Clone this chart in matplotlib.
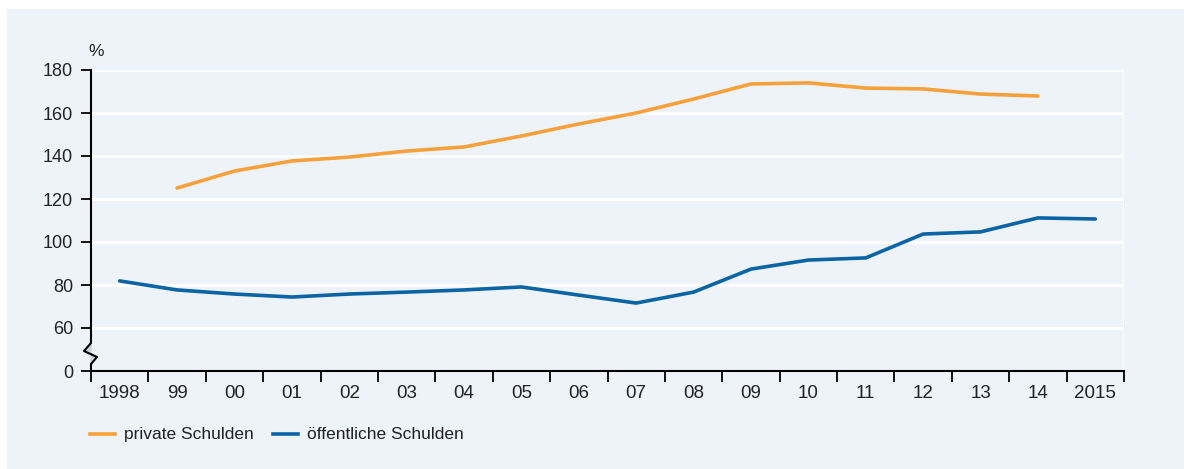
import matplotlib
matplotlib.use("Agg")
import matplotlib.pyplot as plt
from matplotlib.patches import Rectangle
from matplotlib.lines import Line2D
import numpy as np

plt.rcParams['font.family'] = ['Liberation Sans', 'DejaVu Sans']

# ---- data ----
years = ["1998", "99", "00", "01", "02", "03", "04", "05", "06", "07",
         "08", "09", "10", "11", "12", "13", "14", "2015"]
private_debt = [None, 125.1, 133.0, 137.7, 139.5, 142.3, 144.2, 149.3, 154.9,
                160.0, 166.5, 173.5, 174.0, 171.6, 171.2, 168.8, 167.9, None]
public_debt = [81.9, 77.7, 75.8, 74.4, 75.8, 76.7, 77.7, 79.1, 75.3, 71.6,
               76.7, 87.4, 91.6, 92.6, 103.7, 104.7, 111.2, 110.7]
ytick_labels = [0, 60, 80, 100, 120, 140, 160, 180]
series_names = ["private Schulden", "öffentliche Schulden"]

BREAK = 40  # values >= 60 are shifted down by 40 (axis break between 0 and 60)

def tr(v):
    return np.nan if v is None else v - BREAK

W, H = 1184, 469
fig = plt.figure(figsize=(W / 100, H / 100), dpi=100)
fig.patch.set_facecolor("white")
bg = "#EEF3FA"
fig.patches.append(Rectangle((7 / W, 0), 1 - 7 / W, 1 - 9 / H, transform=fig.transFigure,
                             facecolor=bg, edgecolor="none", zorder=-5))

left, right, top, bottom = 91, 1124, 70, 371
ax = fig.add_axes([left / W, (H - bottom) / H, (right - left) / W, (bottom - top) / H])
ax.set_facecolor(bg)

x = np.arange(len(years))
orange = "#F7A03C"
blue = "#0B64A3"
ax.plot(x, [tr(v) for v in private_debt], color=orange, lw=2.6,
        solid_capstyle="round", solid_joinstyle="round", zorder=3)
ax.plot(x, [tr(v) for v in public_debt], color=blue, lw=2.6,
        solid_capstyle="round", solid_joinstyle="round", zorder=3)

ax.set_xlim(-0.5, len(years) - 0.5)
ax.set_ylim(0, 140)

ypos = [0] + [v - BREAK for v in ytick_labels[1:]]
ax.set_yticks(ypos)
ax.set_yticklabels([str(v) for v in ytick_labels], fontsize=13, color="#222222")
for yv in ypos[1:]:
    ax.axhline(yv, color="white", lw=2, zorder=1)
ax.axvline(len(years) - 0.5, color="white", lw=2, zorder=1)

ax.set_xticks(np.arange(-0.5, len(years), 1.0))
ax.set_xticklabels([])
ax.set_xticks(x, minor=True)
ax.set_xticklabels(years, minor=True, fontsize=13.5, color="#222222")
ax.tick_params(axis="x", which="major", direction="out", length=8, width=1.3, color="black")
ax.tick_params(axis="x", which="minor", length=0, pad=10)
ax.tick_params(axis="y", direction="out", length=7, width=1.3, color="black", pad=6)

for s in ["top", "right", "left"]:
    ax.spines[s].set_visible(False)
ax.spines["bottom"].set_linewidth(1.5)

tr_ax = ax.transAxes
def px_to_ax(px, py):
    return (px - left) / (right - left), (bottom - py) / (bottom - top)

pts = [(91, 70), (91, 343), (84, 351), (97, 357), (91, 364), (91, 371)]
axpts = [px_to_ax(*p) for p in pts]
ax.add_line(Line2D([p[0] for p in axpts], [p[1] for p in axpts], transform=tr_ax,
                   color="black", lw=1.5, clip_on=False, zorder=5))
fillpts = [px_to_ax(*p) for p in [(91, 343), (84, 351), (97, 357), (91, 364)]]
ax.fill([p[0] for p in fillpts], [p[1] for p in fillpts], transform=tr_ax,
        color="#cfd4d9", clip_on=False, zorder=4)

fig.text(96 / W, (H - 51) / H, "%", fontsize=12.5, color="#222222", ha="center", va="center")

# legend
ly = (H - 434) / H
for (x0, col, name) in [(90, orange, series_names[0]), (273, blue, series_names[1])]:
    fig.add_artist(Line2D([x0 / W, (x0 + 25) / W], [ly, ly], color=col, lw=2.6,
                          transform=fig.transFigure))
    fig.text((x0 + 34) / W, ly, name, fontsize=12.5, color="#222222",
             ha="left", va="center")

fig.savefig("out.png", dpi=100, facecolor=fig.get_facecolor())
